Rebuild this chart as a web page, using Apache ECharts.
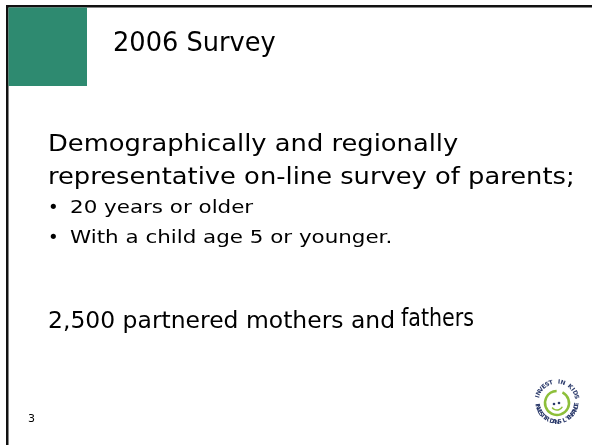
<!DOCTYPE html>
<html>
<head>
<meta charset="utf-8">
<script src="https://cdn.jsdelivr.net/npm/echarts@6/dist/echarts.min.js"></script>
<style>
  html, body { margin: 0; padding: 0; background: #fff; }
  #slide { width: 592px; height: 445px; }
</style>
</head>
<body>
<div id="slide"></div>
<script>
// slide texts
var titleText = '2006 Survey';
var introLines = ['Demographically and regionally', 'representative on-line survey of parents;'];
var bulletLines = ['20 years or older', 'With a child age 5 or younger.'];
var sampleText = ['2,500 partnered mothers and ', 'fathers'];
var pageNumber = '3';
var logoTop = 'INVEST IN KIDS';
var logoBottom = 'INVESTIR DANS L\'ENFANCE';

var font = '"Comic Sans MS", "DejaVu Sans", sans-serif';

// text stretched sideways a little, to get near the width of the original face
function line(str, x, y, size, sx) {
    return {
        type: 'text', x: x, y: y, scaleX: sx,
        style: { text: str, font: size + 'px ' + font, fill: '#000', verticalAlign: 'middle' }
    };
}

var elements = [
    // frame lines
    { type: 'rect', shape: { x: 6, y: 5, width: 592, height: 2.5 }, style: { fill: '#111' } },
    { type: 'rect', shape: { x: 6, y: 5, width: 2.5, height: 445 }, style: { fill: '#111' } },
    // green block
    { type: 'rect', shape: { x: 8.5, y: 7.5, width: 78.5, height: 78.5 }, style: { fill: '#2e8a70' } },
    line(titleText, 113, 44, 27, 0.95),
    {
        type: 'text', x: 28, y: 419,
        style: { text: pageNumber, font: '11px "DejaVu Sans", sans-serif', fill: '#000', verticalAlign: 'middle' }
    }
];

introLines.forEach(function (t, i) {
    elements.push(line(t, 48, 145 + i * 33, 23, 1.12));
});
bulletLines.forEach(function (t, i) {
    elements.push(line('\u2022', 48, 208 + i * 30, 18, 1));
    elements.push(line(t, 70, 208 + i * 30, 18, 1.19));
});
elements.push(line(sampleText[0], 48, 322, 23, 1.02));
elements.push(line(sampleText[1], 401, 320, 24, 0.86));

// logo
var cx = 557, cy = 402, ring = 20;
function ringText(str, start, end, flip) {
    var n = str.length;
    for (var i = 0; i < n; i++) {
        var a = start + (end - start) * (i + 0.5) / n;
        elements.push({
            type: 'text',
            x: cx + ring * Math.cos(a), y: cy + ring * Math.sin(a),
            rotation: flip ? -(a - Math.PI / 2) : -(a + Math.PI / 2),
            style: { text: str[i], font: 'bold 6px "DejaVu Sans", sans-serif', fill: '#2b3a6b', align: 'center', verticalAlign: 'middle' }
        });
    }
}
ringText(logoTop, -Math.PI * 0.95, -Math.PI * 0.05, false);
ringText(logoBottom, Math.PI * 0.98, Math.PI * 0.02, true);
elements.push(
    { type: 'arc', shape: { cx: cx, cy: cy + 1, r: 12, startAngle: -Math.PI * 0.35, endAngle: Math.PI * 1.65 - 0.5 }, style: { stroke: '#8dbf3a', lineWidth: 2.5, fill: null } },
    { type: 'circle', shape: { cx: cx - 3, cy: cy + 2, r: 1.3 }, style: { fill: '#2b3a6b' } },
    { type: 'circle', shape: { cx: cx + 2, cy: cy + 1, r: 1.3 }, style: { fill: '#2b3a6b' } },
    { type: 'arc', shape: { cx: cx, cy: cy + 2, r: 6, startAngle: Math.PI * 0.15, endAngle: Math.PI * 0.8 }, style: { stroke: '#8dbf3a', lineWidth: 1.5, fill: null } }
);

var myChart = echarts.init(document.getElementById('slide'));
myChart.setOption({
    animation: false,
    graphic: { elements: elements }
});
</script>
</body>
</html>
